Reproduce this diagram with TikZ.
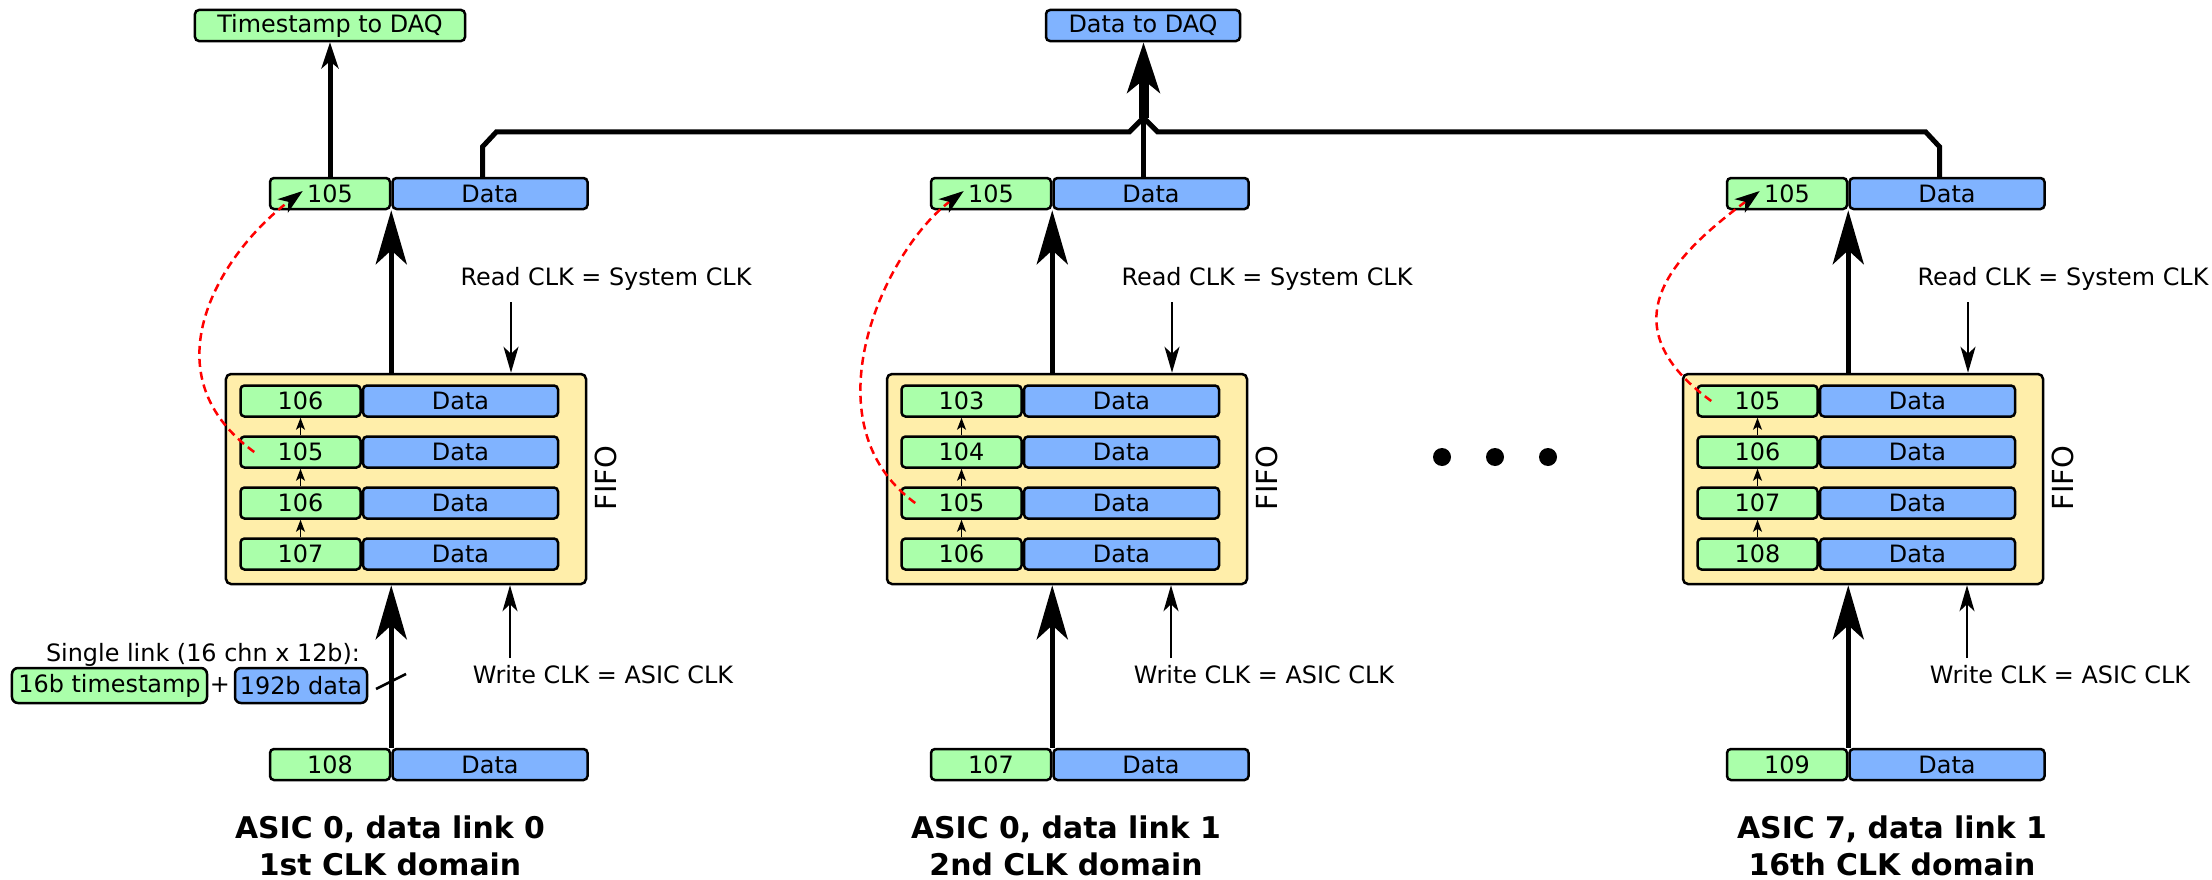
\documentclass[tikz,border=0pt]{standalone}
\usepackage{fontspec}
\setmainfont{DejaVu Sans}
\usetikzlibrary{positioning,arrows.meta}
\definecolor{tsgreen}{HTML}{AAFFAA}
\definecolor{datablue}{HTML}{80B3FF}
\definecolor{fifoyellow}{HTML}{FFEEAA}
\tikzset{
  txt/.style={inner sep=0pt, font=\fontsize{13.6}{16}\selectfont},
  reg/.style={txt, draw, line width=0.5mm, rounded corners=0.8mm, minimum height=6.2mm},
  tsreg/.style={reg, fill=tsgreen, minimum width=24mm},
  datareg/.style={reg, fill=datablue, minimum width=39mm},
  fifobox/.style={draw, line width=0.5mm, rounded corners=1mm, fill=fifoyellow, minimum width=72mm, minimum height=42mm, inner sep=0pt},
  clkdomain/.style={align=center, inner sep=0pt, font=\fontsize{17}{21}\selectfont\bfseries},
  wide/.style={line width=1.1mm, -{Stealth[length=10.8mm, width=6.2mm, inset=2.8mm]}},
  clk/.style={line width=0.4mm, -{Stealth[length=5.2mm, width=3mm, inset=1.4mm]}},
  rowarrow/.style={line width=0.3mm, -{Stealth[length=2.4mm, width=1.8mm, inset=0.6mm]}},
  bus/.style={line width=1mm},
  reorder/.style={red, line width=0.5mm, dash pattern=on 1.6mm off 1mm, -{Stealth[color=black, length=5mm, width=3.4mm, inset=1.4mm]}}
}
\begin{document}
\begin{tikzpicture}[x=0.2mm, y=-0.2mm]
\useasboundingbox (0,0) rectangle (2212,880);
\node[reg, fill=tsgreen, minimum width=54mm] (tsdaq) at (330,25.5) {Timestamp to DAQ};
\node[reg, fill=datablue, minimum width=38.8mm] (datadaq) at (1143,25.5) {Data to DAQ};
\foreach \col/\dx/\rows/\bot/\src in {L/0/{106,105,106,107}/108/2, M/661/{103,104,105,106}/107/3, R/1457/{105,106,107,108}/109/1}{
  \node[fifobox] (\col fifo) at (\dx+406,479) {};
  \node[txt, rotate=90, font=\fontsize{16.5}{18}\selectfont] (\col lbl) at (\dx+606,478) {FIFO};
  \foreach \ts [count=\i] in \rows {
    \node[tsreg] (\col\i g) at (\dx+300.5,350+51*\i) {\ts};
    \node[datareg, right=0pt of \col\i g] (\col\i d) {Data};
  }
  \foreach \i in {1,2,3} {
    \pgfmathtruncatemacro\j{\i+1}
    \draw[rowarrow] (\col\j g.north) -- (\col\i g.south);
  }
  \node[tsreg] (\col tg) at (\dx+330,193.5) {105};
  \node[datareg, right=0pt of \col tg] (\col td) {Data};
  \node[tsreg] (\col bg) at (\dx+330,764.5) {\bot};
  \node[datareg, right=0pt of \col bg] (\col bd) {Data};
  \draw[wide] (\col tg.south east |- \col fifo.north) -- (\col tg.south east);
  \draw[wide] (\col bg.north east) -- (\col bg.north east |- \col fifo.south);
  \node[txt] (\col rd) at (\dx+606,279) {Read CLK = System CLK};
  \node[txt] (\col wr) at (\dx+603,675) {Write CLK = ASIC CLK};
  \coordinate (\col rs) at (\dx+511,302);
  \coordinate (\col ws) at (\dx+510,658);
  \draw[clk] (\col rs) -- (\col rs |- \col fifo.north);
  \draw[clk] (\col ws) -- (\col ws |- \col fifo.south);
  \draw[reorder] ([xshift=3mm]\col\src g.west) .. controls ([xshift=-19mm,yshift=16mm]\col\src g.west) and ([xshift=-9.2mm,yshift=-11.5mm]\col tg.west) .. ([xshift=6.8mm,yshift=0.5mm]\col tg.west);
}
\coordinate (merge) at ([xshift=-1.5mm,yshift=11.8mm]Mtd.north);
\draw[bus] ([xshift=-1.5mm]Ltd.north) -- ++(0,-30) -- ++(14,-15) -- ([xshift=-2.8mm,yshift=-2.8mm]merge) -- (merge);
\draw[bus] ([xshift=-1.5mm]Rtd.north) -- ++(0,-30) -- ++(-14,-15) -- ([xshift=2.8mm,yshift=-2.8mm]merge) -- (merge);
\draw[bus] ([xshift=-1.5mm]Mtd.north) -- (merge);
\draw[line width=2mm, -{Stealth[length=10mm, width=6.4mm, inset=2.5mm]}] (merge) -- (merge |- datadaq.south);
\draw[line width=1mm, -{Stealth[length=5.2mm, width=3.4mm, inset=1.4mm]}] (Ltg.north) -- (tsdaq.south);
\foreach \x in {1442,1495,1548}
\fill (\x,457) circle[radius=1.8mm];
\node[txt] (slink) at (203,655) {Single link (16 chn x 12b):};
\node[reg, fill=tsgreen, minimum width=39mm, minimum height=7mm, rounded corners=1.2mm] (tsfmt) at (109.5,685.5) {16b timestamp};
\node[txt] (plus) at (220,685) {+};
\node[reg, fill=datablue, minimum width=26.4mm, minimum height=7mm, rounded corners=1.2mm] (datafmt) at (301,685.5) {192b data};
\draw[line width=0.5mm] (376,689) -- (406,674);
\node[clkdomain] (Lname) at (390,846) {ASIC 0, data link 0\\1st CLK domain};
\node[clkdomain] (Mname) at (1066,846) {ASIC 0, data link 1\\2nd CLK domain};
\node[clkdomain] (Rname) at (1892,846) {ASIC 7, data link 1\\16th CLK domain};
\end{tikzpicture}
\end{document}
